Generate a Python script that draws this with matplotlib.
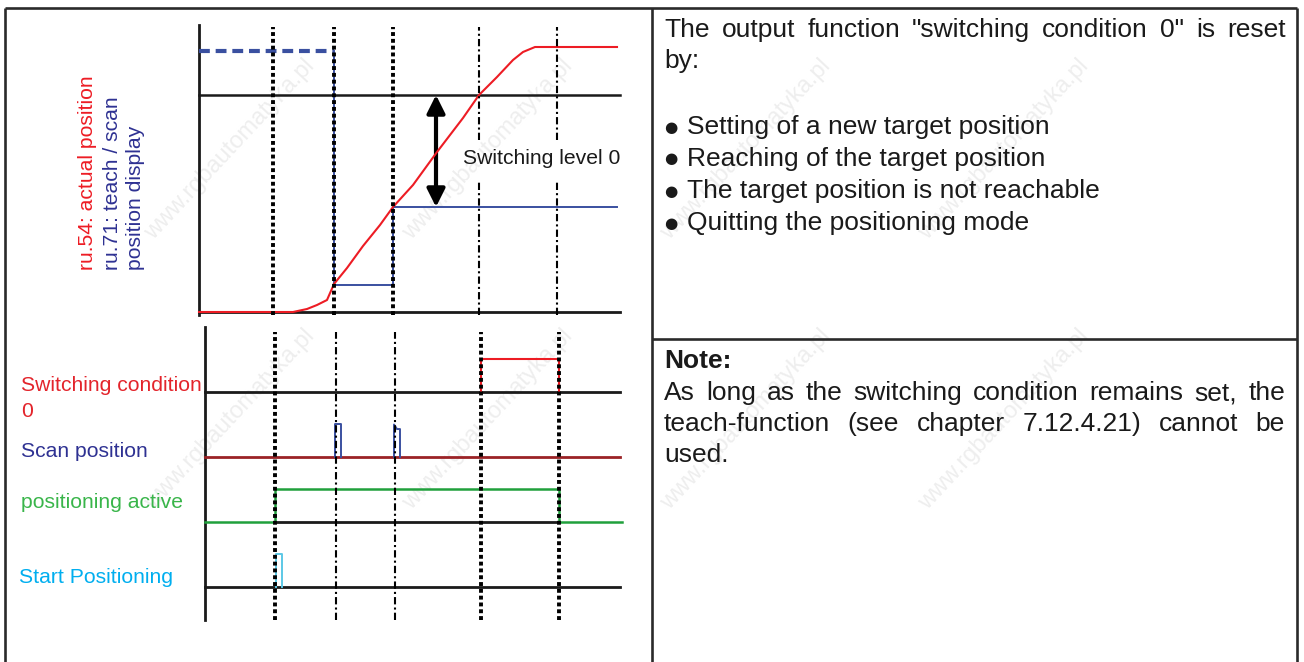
import matplotlib
matplotlib.use("Agg")
import matplotlib.pyplot as plt

W, H = 1304, 662

# ---- data -------------------------------------------------------------
# event instants (time axis, arbitrary units)
event_times = [74, 135, 194, 280, 358]

# top diagram: position values
red_t = [0, 94, 108, 118, 128, 135, 148, 164, 181, 194, 214, 238, 264, 280, 298, 314, 324, 336, 418]
red_p = [0, 0, 3, 7, 12, 28, 44, 66, 87, 105, 127, 160, 194, 217, 235, 252, 260, 265, 265]
teach_old_t = [0, 135]
teach_old_p = [261, 261]
teach_t = [135, 135, 135, 194, 194, 418]
teach_p = [261, 27, 27, 27, 105, 105]
switch_level = 217
teach_level = 105

# bottom diagram: digital signals (channel baseline + level)
sig_labels = ["Switching condition\n0", "Scan position", "positioning active", "Start Positioning"]
sw_cond_t = [280, 280, 358, 358]
sw_cond_v = [0, 0.5, 0.5, 0]
scan_t1 = [134, 134, 140, 140]
scan_v1 = [0, 0.5, 0.5, 0]
scan_t2 = [193, 193, 196, 199, 199]
scan_v2 = [0, 0.5, 0.43, 0.43, 0]
pos_act_t = [4, 74, 74, 358, 358, 421]
pos_act_v = [0, 0, 0.5, 0.5, 0, 0]
start_t = [75, 75, 81, 81]
start_v = [0, 0.5, 0.5, 0]

reset_text = "The output function \"switching condition 0\" is reset"
bullets = ["Setting of a new target position",
           "Reaching of the target position",
           "The target position is not reachable",
           "Quitting the positioning mode"]
note_lines = ["As long as the switching condition remains set, the",
              "teach-function (see chapter 7.12.4.21) cannot be"]
note_last = "used."

# ---- styling ----------------------------------------------------------
FONT = "Liberation Sans"
RED = "#ed1c24"
BLUE = "#3a50a0"
NAVY = "#2e3192"
GREEN = "#20a03c"
CYAN = "#5cc8e6"
DARKRED = "#9b2226"
INK = "#1a1a1a"
THICK = dict(color="black", lw=2.8, linestyle=(0, (1.0, 0.75)), zorder=5, clip_on=False)
THIN = dict(color="black", lw=1.5, linestyle=(0, (3.5, 1.5, 1.0, 1.5)), zorder=5, clip_on=False)


def fx(x):
    return x / W


def fy(y):
    return 1 - y / H


fig = plt.figure(figsize=(W / 100, H / 100), dpi=100)
fig.patch.set_facecolor("white")

# faint watermark
for yc in [150, 420]:
    for xc in [230, 488, 746, 1004]:
        fig.text(fx(xc), fy(yc), "www.rgbautomatyka.pl", rotation=47, color="#eeeeee",
                 fontsize=17, family=FONT, ha="center", va="center", zorder=-5)

# ---- top diagram ------------------------------------------------------
ax = fig.add_axes([fx(199), fy(312), 421 / W, 287 / H])
ax.set_xlim(0, 421)
ax.set_ylim(0, 287)
ax.axis("off")
ax.patch.set_alpha(0)

ax.plot([0, 0], [-3, 287], color=INK, lw=2.0, clip_on=False)
ax.plot([0, 421], [0, 0], color=INK, lw=2.0, clip_on=False)
ax.plot([0, 421], [switch_level, switch_level], color=INK, lw=1.8, clip_on=False)
ax.plot(teach_old_t, teach_old_p, color=BLUE, lw=3.0, linestyle=(0, (2.6, 1.4)), clip_on=False)
ax.plot(teach_t, teach_p, color=BLUE, lw=1.4, clip_on=False)
ax.plot(red_t, red_p, color=RED, lw=1.5, clip_on=False, zorder=4)
for i, t in enumerate(event_times):
    if i < 3:
        ax.plot([t, t], [-3, 285], **THICK)
    else:
        # gap left for the "Switching level 0" label
        ax.plot([t, t], [172, 285], **THIN)
        ax.plot([t, t], [-3, 130], **THIN)
ax.annotate("", xy=(237, teach_level), xytext=(237, switch_level),
            arrowprops=dict(arrowstyle="<|-|>,head_length=0.6,head_width=0.3",
                            lw=3.0, color="black", shrinkA=0, shrinkB=0, mutation_scale=18))
fig.text(fx(463), fy(164), "Switching level 0", fontsize=15.2, family=FONT,
         color=INK, ha="left", va="baseline")

# rotated axis labels
for x, txt, col in [(93, "ru.54: actual position", RED),
                    (118, "ru.71: teach / scan", NAVY),
                    (141, "position display", NAVY)]:
    fig.text(fx(x), fy(270), txt, rotation=90, rotation_mode="anchor", ha="left",
             va="baseline", fontsize=15.2, family=FONT, color=col)

# ---- bottom diagram ---------------------------------------------------
bx = fig.add_axes([fx(205), fy(620), 417 / W, 293 / H])
bx.set_xlim(4, 421)
bx.set_ylim(-0.508, 4.0)
bx.axis("off")
bx.patch.set_alpha(0)

bx.plot([4, 4], [-0.508, 4.0], color=INK, lw=2.0, clip_on=False)
# switching condition 0 (channel 3)
bx.plot([4, 419], [3, 3], color=INK, lw=2.0, clip_on=False)
bx.plot(sw_cond_t, [3 + v for v in sw_cond_v], color=RED, lw=1.5, clip_on=False, zorder=3)
# scan position (channel 2)
bx.plot([4, 419], [2, 2], color=DARKRED, lw=2.0, clip_on=False)
bx.plot(scan_t1, [2 + v for v in scan_v1], color=BLUE, lw=1.4, clip_on=False, zorder=3)
bx.plot(scan_t2, [2 + v for v in scan_v2], color=BLUE, lw=1.4, clip_on=False, zorder=3)
# positioning active (channel 1)
bx.plot([74, 358], [1, 1], color=INK, lw=2.0, clip_on=False)
bx.plot(pos_act_t, [1 + v for v in pos_act_v], color=GREEN, lw=1.8, clip_on=False, zorder=3)
# start positioning (channel 0)
bx.plot([4, 419], [0, 0], color=INK, lw=2.0, clip_on=False)
bx.plot(start_t, start_v, color=CYAN, lw=1.4, clip_on=False, zorder=3)
for i, t in enumerate(event_times):
    bx.plot([t, t], [-0.508, 3.92], **(THIN if i in (1, 2) else THICK))

# signal labels
fig.text(fx(21), fy(391), "Switching condition", color="#e3242b", fontsize=15.2, family=FONT, va="baseline")
fig.text(fx(21), fy(417), "0", color="#e3242b", fontsize=15.2, family=FONT, va="baseline")
fig.text(fx(21), fy(457), sig_labels[1], color=NAVY, fontsize=15.2, family=FONT, va="baseline")
fig.text(fx(21), fy(508), sig_labels[2], color="#39b54a", fontsize=15.2, family=FONT, va="baseline")
fig.text(fx(19), fy(583), sig_labels[3], color="#00aeef", fontsize=15.2, family=FONT, va="baseline")

# ---- table frame ------------------------------------------------------
frame = fig.add_axes([0, 0, 1, 1])
frame.set_xlim(0, W)
frame.set_ylim(H, 0)
frame.axis("off")
frame.patch.set_alpha(0)
for xs, ys in [([5, 1297], [7.5, 7.5]), ([5, 5], [7.5, H]), ([652, 652], [7.5, H]),
               ([1297, 1297], [7.5, H]), ([652, 1297], [339, 339])]:
    frame.plot(xs, ys, color="#2a2a2a", lw=1.9, solid_capstyle="butt")

# ---- right panel text -------------------------------------------------
renderer = fig.canvas.get_renderer()
TS = 19


def justify(line, y, x0, x1):
    words = line.split(" ")
    texts = [fig.text(0, fy(y), w, fontsize=TS, family=FONT, color=INK, va="baseline")
             for w in words]
    widths = [t.get_window_extent(renderer).width for t in texts]
    gap = (x1 - x0 - sum(widths)) / (len(words) - 1)
    x = x0
    for t, w in zip(texts, widths):
        t.set_x(fx(x))
        x += w + gap


justify(reset_text, 37, 664, 1286)
fig.text(fx(664), fy(68), "by:", fontsize=TS, family=FONT, color=INK, va="baseline")
for k, b in enumerate(bullets):
    y = 134 + 32 * k
    fig.text(fx(671), fy(y - 7), "\u25cf", fontsize=11, family=["DejaVu Sans"], color=INK,
             ha="center", va="center")
    fig.text(fx(687), fy(y), b, fontsize=TS, family=FONT, color=INK, va="baseline")

fig.text(fx(664), fy(368), "Note:", fontsize=TS, family=FONT, weight="bold", color=INK, va="baseline")
for k, line in enumerate(note_lines):
    justify(line, 400 + 31 * k, 664, 1285)
fig.text(fx(664), fy(462), note_last, fontsize=TS, family=FONT, color=INK, va="baseline")

fig.savefig("out.png", dpi=100)
